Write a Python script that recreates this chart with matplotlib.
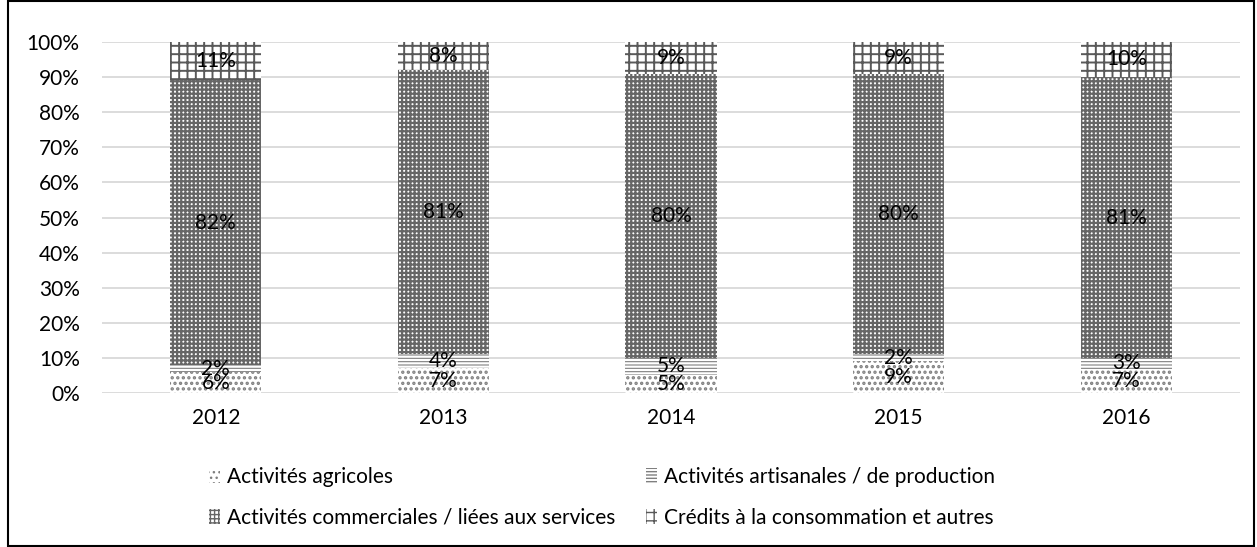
import matplotlib
matplotlib.use('Agg')
import matplotlib.pyplot as plt
import numpy as np
from matplotlib.patches import Rectangle, Patch

plt.rcParams['font.family'] = ['Lato', 'DejaVu Sans']

years = ['2012', '2013', '2014', '2015', '2016']
agricoles = [6, 7, 5, 9, 7]
artisanales = [2, 4, 5, 2, 3]
commerciales = [82, 81, 80, 80, 81]
credits = [11, 8, 9, 9, 10]

series = [
    ('Activités agricoles', agricoles, '...', '#7f7f7f', 1.6),
    ('Activités artisanales / de production', artisanales, '-----', '#7f7f7f', 0.8),
    ('Activités commerciales / liées aux services', commerciales, '++++', '#666666', 1.6),
    ('Crédits à la consommation et autres', credits, '++', '#595959', 1.4),
]

FS = 15
totals = np.sum([s[1] for s in series], axis=0)

fig = plt.figure(figsize=(12.57, 5.47), dpi=100)
ax = fig.add_axes([0.0811, 0.2815, 0.9054, 0.6417])

x = np.arange(len(years))
bottom = np.zeros(len(years))
handles = []
for name, vals, hatch, col, hlw in series:
    share = np.array(vals) / totals * 100
    with plt.rc_context({'hatch.linewidth': hlw, 'hatch.color': col}):
        ax.bar(x, share, 0.4, bottom=bottom, color='white',
               edgecolor=col, linewidth=0, hatch=hatch, zorder=2)
        handles.append(Patch(facecolor='white', edgecolor=col, linewidth=0,
                             hatch=hatch, label=name))
    for xi, b, s, v in zip(x, bottom, share, vals):
        ax.text(xi, b + s / 2, f'{v}%', ha='center', va='center',
                fontsize=FS, color='black', zorder=3)
    bottom += share

ax.set_xlim(-0.5, len(years) - 0.5)
ax.set_ylim(0, 100)
ax.set_yticks(np.arange(0, 101, 10))
ax.set_yticklabels([f'{t}%' for t in range(0, 101, 10)])
ax.set_xticks(x)
ax.set_xticklabels(years)
ax.tick_params(length=0, labelsize=FS, colors='#000000')
ax.tick_params(axis='y', pad=16)
ax.tick_params(axis='x', pad=11)
ax.grid(axis='y', color='#d9d9d9', linewidth=1.3, zorder=0)
for sp in ax.spines.values():
    sp.set_visible(False)

# legend entries laid out like the original: two columns, two rows
W, H = 1257, 547
spots = [(209, 477), (646, 477), (209, 518), (646, 518)]
for h, (px, py) in zip(handles, spots):
    fig.legend(handles=[h], loc='center left', bbox_to_anchor=(px / W, 1 - py / H),
               frameon=False, fontsize=FS, handlelength=0.55, handleheight=0.7,
               handletextpad=0.3, borderpad=0, borderaxespad=0)

fig.patches.append(Rectangle((0.006, 0.001), 0.992, 0.998, transform=fig.transFigure,
                             fill=False, edgecolor='black', linewidth=1.5))

fig.savefig('out.png', dpi=100)
